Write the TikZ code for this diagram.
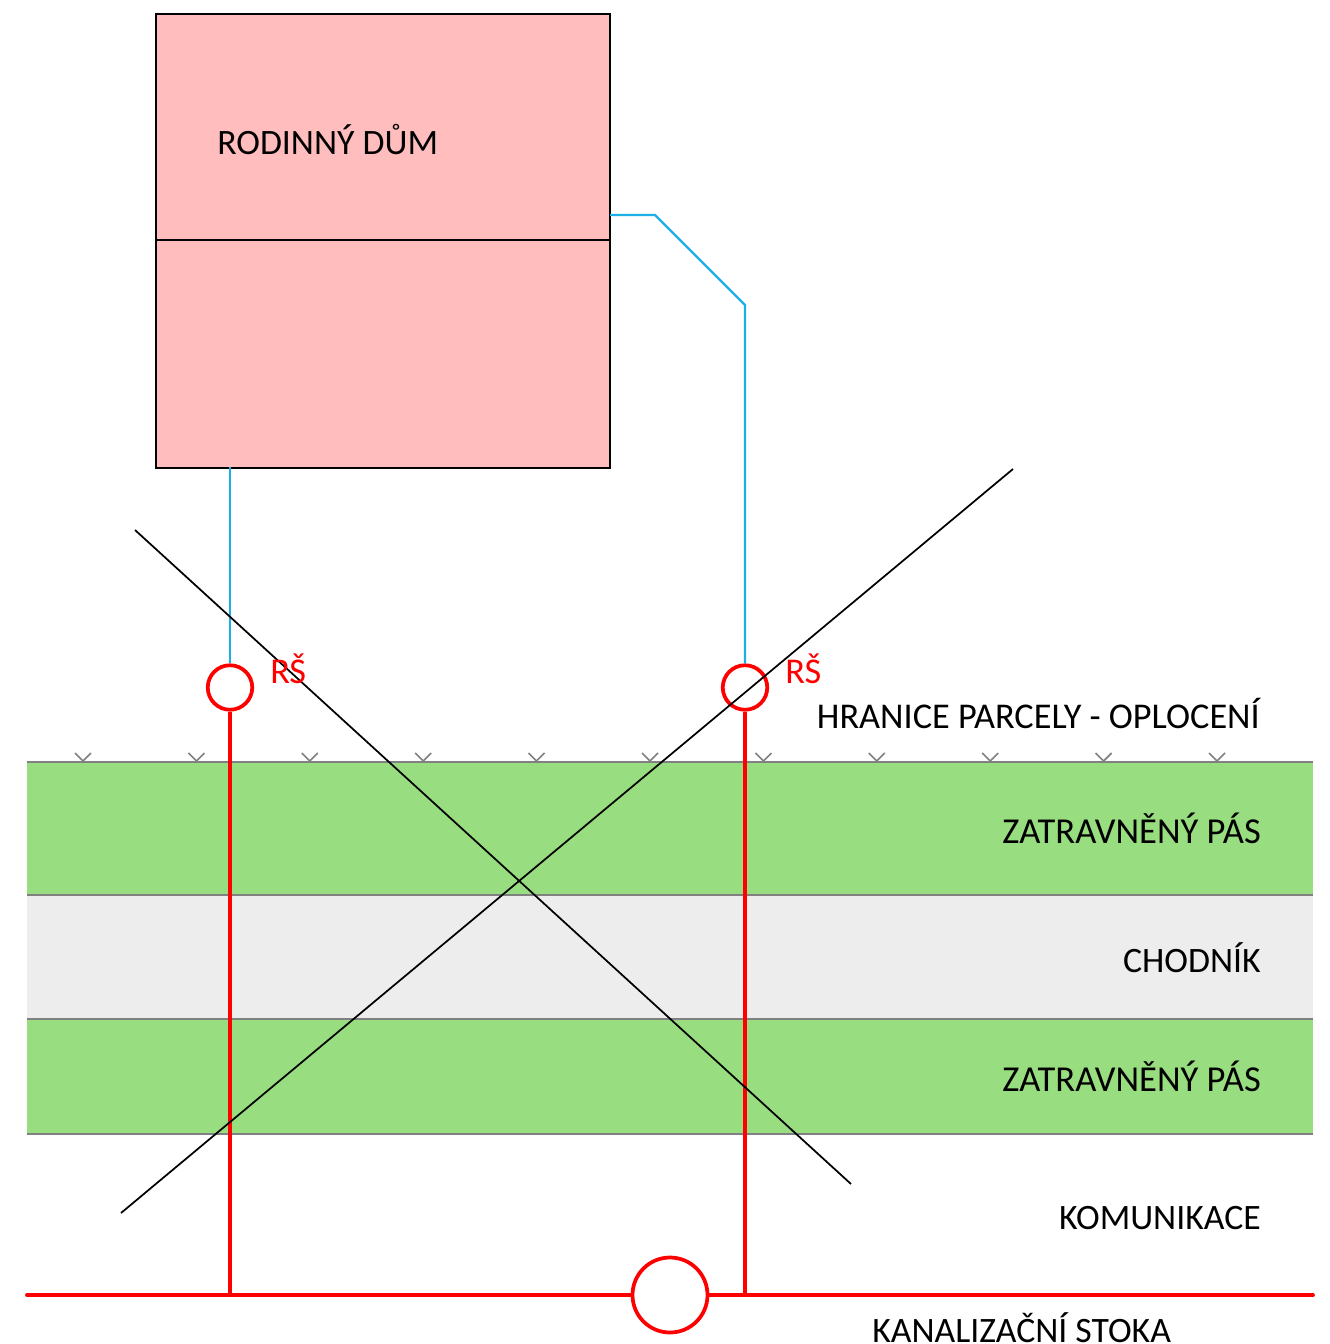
\documentclass[tikz,border=0pt]{standalone}
\usepackage{fontspec}
\usetikzlibrary{shapes.geometric}
\setmainfont{Carlito}
\definecolor{housefill}{HTML}{FFBDBD}
\definecolor{grassfill}{HTML}{98DD80}
\definecolor{walkfill}{HTML}{EDEDED}
\definecolor{edgegray}{HTML}{808080}
\definecolor{pipeblue}{HTML}{1CAEE4}
\definecolor{pipered}{HTML}{FF0000}
\tikzset{
  strip/.style={fill=#1,draw=none},
  edgeline/.style={draw=edgegray,line width=1.3pt},
  fencemark/.style={draw=edgegray,line width=1.2pt},
  blueline/.style={draw=pipeblue,line width=1.8pt},
  redline/.style={draw=pipered,line width=2.8pt},
  crossline/.style={draw=black,line width=1.3pt},
  manhole/.style={circle,draw=pipered,fill=white,line width=2.8pt,minimum size=44.5*0.75pt,inner sep=0pt},
  lbl/.style={font=\fontsize{26.8}{30}\selectfont,inner sep=0pt,text=black},
  widelbl/.style={font=\fontsize{27.4}{30}\selectfont,inner sep=0pt,text=black},
  fencelbl/.style={font=\fontsize{27.2}{30}\selectfont,inner sep=0pt,text=black},
  redlbl/.style={font=\fontsize{27.2}{30}\selectfont,inner sep=0pt,text=pipered},
}
\begin{document}
\begin{tikzpicture}[x=0.75pt,y=-0.75pt]
\useasboundingbox (0,0) rectangle (1329,1344);
\clip (0,0) rectangle (1329,1344);
% strips
\fill[strip=grassfill] (27,762) rectangle (1313,895);
\fill[strip=walkfill] (27,895) rectangle (1313,1019);
\fill[strip=grassfill] (27,1019) rectangle (1313,1134);
\foreach \yy in {762,895,1019,1134} \draw[edgeline] (27,\yy) -- (1313,\yy);
% fence marks
\foreach \xx in {83,196.4,309.8,423.2,536.6,650,763.4,876.8,990.2,1103.6,1217}
  \draw[fencemark] (\xx-8,753) -- (\xx,761) -- (\xx+8,753);
% house
\node[draw=black,fill=housefill,line width=1.5pt,minimum width=454*0.75pt,minimum height=453.5*0.75pt,inner sep=0pt,anchor=north west] (house) at (154.8,13.2) {};
\coordinate (midL) at (156,240);
\coordinate (midR) at (610,240);
\draw[crossline] (midL) -- (midR);
\node[lbl,anchor=base west] (houselbl) at (217,155) {RODINNÝ DŮM};
% nodes
\node[manhole] (rs1) at (230,687.5) {};
\node[manhole] (rs2) at (745,687.5) {};
\coordinate (j1) at (230,1295);
\coordinate (j2) at (745,1295);
\coordinate (sewerL) at (27,1295);
\coordinate (sewerR) at (1313,1295);
\coordinate (b1) at (230,467);
\coordinate (b2a) at (610,215);
\coordinate (b2b) at (655,215);
\coordinate (b2c) at (745,305);
% pipes
\draw[redline,line cap=round] (sewerL) -- (sewerR);
\node[ellipse,draw=pipered,fill=white,line width=2.8pt,minimum width=75*0.75pt,minimum height=75*0.75pt,inner sep=0pt] (main) at (670,1295) {};
\draw[redline] (rs1) -- (j1);
\draw[redline] (rs2) -- (j2);
\draw[blueline] (b1) -- (rs1);
\draw[blueline] (b2a) -- (b2b) -- (b2c) -- (rs2);
% crossing lines
\coordinate (c1a) at (135,530);
\coordinate (c1b) at (851,1184);
\coordinate (c2a) at (1013,469);
\coordinate (c2b) at (121,1213);
\draw[crossline] (c1a) -- (c1b);
\draw[crossline] (c2a) -- (c2b);
% labels
\node[redlbl,anchor=base west] (rs1lbl) at (270,683) {RŠ};
\node[redlbl,anchor=base west] (rs2lbl) at (785,683) {RŠ};
\node[fencelbl,anchor=base east] (fence) at (1260,728) {HRANICE PARCELY - OPLOCENÍ};
\node[widelbl,anchor=base east] (g1) at (1261,843) {ZATRAVNĚNÝ PÁS};
\node[lbl,anchor=base east] (walk) at (1261,972) {CHODNÍK};
\node[widelbl,anchor=base east] (g2) at (1261,1091) {ZATRAVNĚNÝ PÁS};
\node[lbl,anchor=base east] (road) at (1261,1229) {KOMUNIKACE};
\node[lbl,anchor=base west] (sewer) at (872,1342.5) {KANALIZAČNÍ STOKA};
\end{tikzpicture}
\end{document}
